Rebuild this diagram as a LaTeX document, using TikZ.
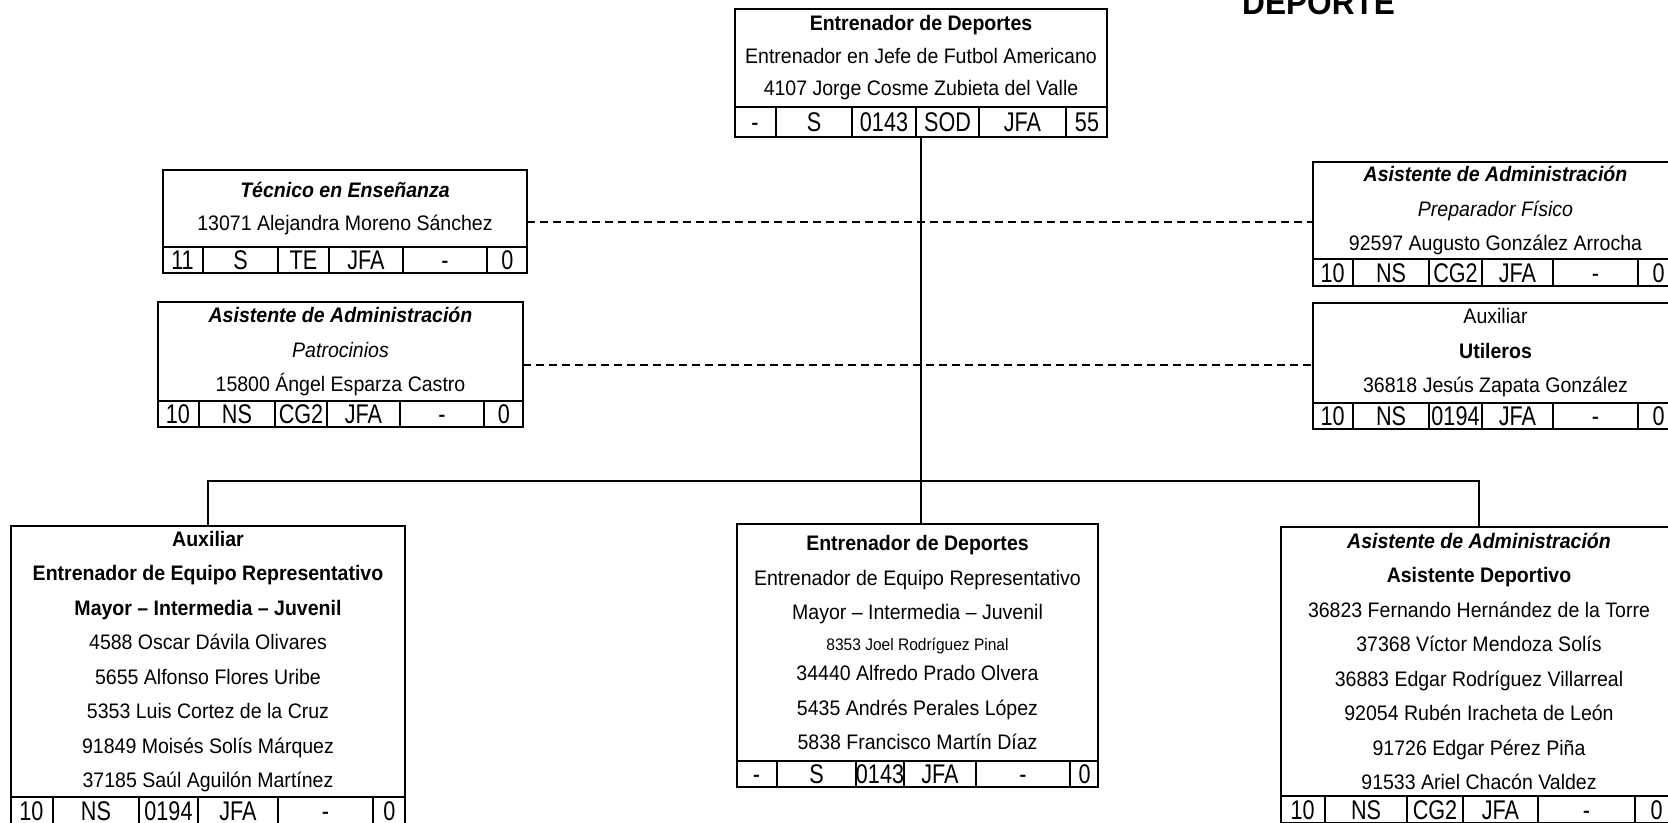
\documentclass[tikz,border=0pt]{standalone}
\usepackage{fontspec}
\setmainfont{Liberation Sans}[FakeStretch=0.93]
\newfontfamily\estrecha{Liberation Sans}[FakeStretch=0.8]
\usepackage{array}
\usetikzlibrary{positioning,calc}
\setlength{\tabcolsep}{0pt}
\setlength{\arrayrulewidth}{2pt}
\renewcommand{\arraystretch}{0}
\newcommand{\alto}[1]{\rule[\dimexpr 9.65pt-#1/2\relax]{0pt}{#1}}
\tikzset{
  caja/.style={rectangle,draw,line width=2pt,inner sep=0pt,outer sep=0pt,align=center,
               anchor=north west,font=\fontsize{21}{34.5}\selectfont},
  clave/.style={rectangle,draw,line width=2pt,inner sep=0pt,outer sep=0pt,
                font=\estrecha\fontsize{27}{27}\selectfont},
  fl/.style={line width=2pt},
  fld/.style={line width=2pt,dash pattern=on 8pt off 5pt},
  tit/.style={font=\bfseries\fontsize{34}{34}\selectfont,inner sep=0pt,anchor=base west},
}

\begin{document}
\begin{tikzpicture}[x=1pt,y=-1pt]
\useasboundingbox (0,0) rectangle (1668,822);
\node[tit] (tit) at (1242,14) {DEPORTE};
% jefe
\node[caja,minimum width=372pt,minimum height=98pt,font=\fontsize{21}{32.5}\selectfont] (jefe) at (735,9)
  {\textbf{Entrenador de Deportes}\\Entrenador en Jefe de Futbol Americano\\4107 Jorge Cosme Zubieta del Valle};
\node[clave,below=0pt of jefe] (jefec)
  {\begin{tabular}{@{}w{c}{40pt}|w{c}{74pt}|w{c}{62pt}|w{c}{61pt}|w{c}{85pt}|w{c}{40pt}@{}}\alto{30pt}- & S & 0143 & SOD & JFA & 55\end{tabular}};
% izquierda
\node[caja,minimum width=364pt,minimum height=77pt,font=\fontsize{21}{33}\selectfont] (tec) at (163,170)
  {\textbf{\textit{Técnico en Enseñanza}}\\13071 Alejandra Moreno Sánchez};
\node[clave,below=0pt of tec] (tecc)
  {\begin{tabular}{@{}w{c}{39pt}|w{c}{73pt}|w{c}{49pt}|w{c}{72pt}|w{c}{82pt}|w{c}{39pt}@{}}\alto{26pt}11 & S & TE & JFA & - & 0\end{tabular}};
\node[caja,minimum width=365pt,minimum height=99pt] (pat) at (158,302)
  {\textbf{\textit{Asistente de Administración}}\\\textit{Patrocinios}\\15800 Ángel Esparza Castro};
\node[clave,below=0pt of pat] (patc)
  {\begin{tabular}{@{}w{c}{40pt}|w{c}{74pt}|w{c}{50pt}|w{c}{71pt}|w{c}{82pt}|w{c}{38pt}@{}}\alto{26pt}10 & NS & CG2 & JFA & - & 0\end{tabular}};
% derecha
\node[caja,minimum width=365pt,minimum height=97pt] (prep) at (1313,162)
  {\textbf{\textit{Asistente de Administración}}\\\textit{Preparador Físico}\\92597 Augusto González Arrocha};
\node[clave,below=0pt of prep] (prepc)
  {\begin{tabular}{@{}w{c}{39pt}|w{c}{74pt}|w{c}{51pt}|w{c}{69pt}|w{c}{83pt}|w{c}{39pt}@{}}\alto{27pt}10 & NS & CG2 & JFA & - & 0\end{tabular}};
\node[caja,minimum width=365pt,minimum height=100pt] (util) at (1313,303)
  {Auxiliar\\\textbf{Utileros}\\36818 Jesús Zapata González};
\node[clave,below=0pt of util] (utilc)
  {\begin{tabular}{@{}w{c}{39pt}|w{c}{74pt}|w{c}{51pt}|w{c}{69pt}|w{c}{83pt}|w{c}{39pt}@{}}\alto{26pt}10 & NS & 0194 & JFA & - & 0\end{tabular}};
% abajo
\node[caja,minimum width=394pt,minimum height=271pt] (aux) at (11,526)
  {\textbf{Auxiliar}\\\textbf{Entrenador de Equipo Representativo}\\\textbf{Mayor – Intermedia – Juvenil}\\
   4588 Oscar Dávila Olivares\\5655 Alfonso Flores Uribe\\5353 Luis Cortez de la Cruz\\
   91849 Moisés Solís Márquez\\37185 Saúl Aguilón Martínez};
\node[clave,below=0pt of aux] (auxc)
  {\begin{tabular}{@{}w{c}{41pt}|w{c}{84pt}|w{c}{57pt}|w{c}{78pt}|w{c}{93pt}|w{c}{31pt}@{}}\alto{27pt}10 & NS & 0194 & JFA & - & 0\end{tabular}};
\node[caja,minimum width=361pt,minimum height=237pt] (ent) at (737,524)
  {\textbf{Entrenador de Deportes}\\Entrenador de Equipo Representativo\\Mayor – Intermedia – Juvenil\\[-4pt]
   {\fontsize{16.7}{18}\selectfont 8353 Joel Rodríguez Pinal}\\[-4pt]
   34440 Alfredo Prado Olvera\\5435 Andrés Perales López\\5838 Francisco Martín Díaz};
\node[clave,below=0pt of ent] (entc)
  {\begin{tabular}{@{}w{c}{39pt}|w{c}{77pt}|w{c}{46pt}|w{c}{70pt}|w{c}{92pt}|w{c}{27pt}@{}}\alto{26pt}- & S & 0143 & JFA & - & 0\end{tabular}};
\node[caja,minimum width=396pt,minimum height=269pt] (asis) at (1281,527)
  {\textbf{\textit{Asistente de Administración}}\\\textbf{Asistente Deportivo}\\
   36823 Fernando Hernández de la Torre\\37368 Víctor Mendoza Solís\\36883 Edgar Rodríguez Villarreal\\
   92054 Rubén Iracheta de León\\91726 Edgar Pérez Piña\\91533 Ariel Chacón Valdez};
\node[clave,below=0pt of asis] (asisc)
  {\begin{tabular}{@{}w{c}{43pt}|w{c}{80pt}|w{c}{54pt}|w{c}{73pt}|w{c}{95pt}|w{c}{41pt}@{}}\alto{27pt}10 & NS & CG2 & JFA & - & 0\end{tabular}};
% lineas
\coordinate (bus) at (920,481);
\draw[fl] (jefec.south) -- (jefec.south |- ent.north);
\draw[fl] (aux.north) -- (aux.north |- bus) -- (asis.north |- bus) -- (asis.north);
\draw[fld] ($(tec.north east)!.5!(tecc.south east)$) coordinate (t1) -- (t1 -| prep.west);
\draw[fld] ($(pat.north east)!.5!(patc.south east)$) coordinate (p1) -- (p1 -| util.west);
\end{tikzpicture}
\end{document}
